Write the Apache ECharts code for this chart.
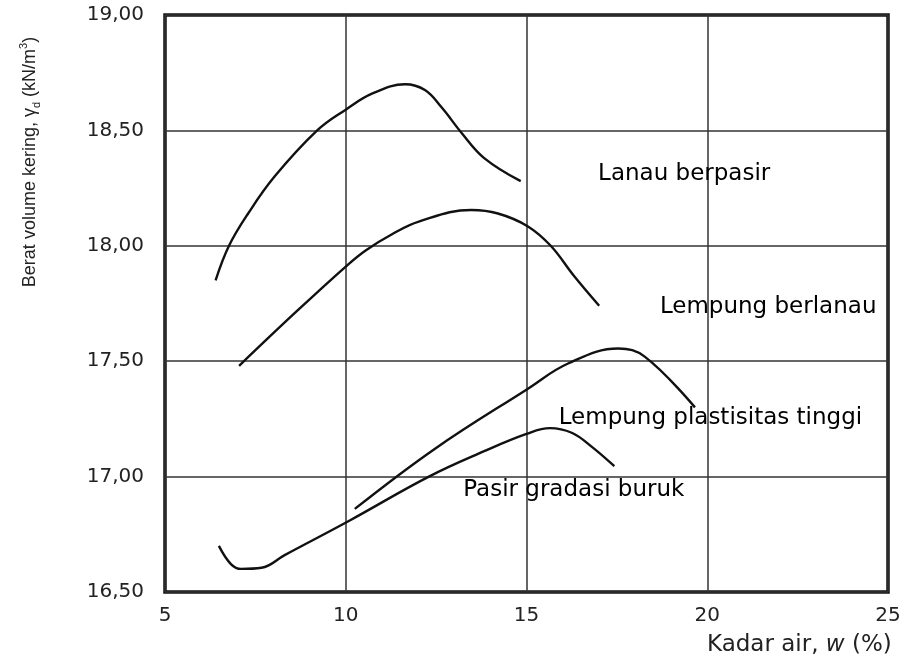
<!DOCTYPE html>
<html>
<head>
<meta charset="utf-8">
<script src="https://cdn.jsdelivr.net/npm/echarts@6/dist/echarts.min.js"></script>
<style>
  html, body { margin:0; padding:0; background:#fff; }
  #main { width:924px; height:660px; }
</style>
</head>
<body>
<div id="main"></div>
<script>
	// kadar air (%) dan berat volume kering (kN/m3) tiap kurva
	var lanauW = [6.40, 6.77, 7.30, 8.03, 9.21, 10.00, 10.74, 11.64, 12.19, 12.65, 13.20, 13.83, 14.84];
	var lanauG = [17.85, 18.00, 18.14, 18.30, 18.50, 18.59, 18.66, 18.70, 18.675, 18.60, 18.49, 18.38, 18.28];

	var berlanauW = [7.05, 8.60, 10.00, 10.55, 11.28, 12.02, 13.47, 14.21, 15.03, 15.67, 16.31, 17.01];
	var berlanauG = [17.48, 17.71, 17.91, 17.98, 18.05, 18.105, 18.155, 18.14, 18.085, 18.00, 17.87, 17.74];

	var plastisW = [10.25, 12.46, 15.03, 16.15, 17.54, 18.27, 19.66];
	var plastisG = [16.86, 17.12, 17.38, 17.49, 17.555, 17.52, 17.30];

	var pasirW = [6.49, 6.83, 7.11, 7.67, 8.31, 10.11, 12.30, 13.83, 15.00, 15.65, 16.25, 16.80, 17.43];
	var pasirG = [16.70, 16.62, 16.60, 16.605, 16.66, 16.81, 17.00, 17.11, 17.185, 17.21, 17.19, 17.13, 17.045];

	var namaKurva = ['Lanau berpasir', 'Lempung berlanau', 'Lempung plastisitas tinggi', 'Pasir gradasi buruk'];
	var xTicks = [5, 10, 15, 20, 25];
	var yTicks = [16.5, 17.0, 17.5, 18.0, 18.5, 19.0];

	function zip(xs, ys){
		var out = [];
		for(var i=0;i<xs.length;i++){ out.push([xs[i], ys[i]]); }
		return out;
	}

	function kurva(nama, xs, ys){
		return {
			name: nama,
			type: 'line',
			smooth: 0.4,
			symbol: 'none',
			lineStyle: { color:'#111', width:2.4 },
			data: zip(xs, ys)
		};
	}

	var lebarFont = '"DejaVu Sans", Verdana, sans-serif';
	var judulFont = '"Liberation Sans", Arial, sans-serif';

	var myChart = echarts.init(document.getElementById('main'));
	myChart.setOption({
		backgroundColor: '#fff',
		animation: false,
		grid: { left:165, top:15, right:36, bottom:68, show:true, borderColor:'#111', borderWidth:3.5 },
		xAxis: {
			type: 'value',
			min: xTicks[0], max: xTicks[xTicks.length-1], interval: 5,
			axisLine: { show:false },
			axisTick: { show:false },
			axisLabel: { color:'#222', fontSize:20, fontFamily:lebarFont, margin:14 },
			splitLine: { show:true, lineStyle:{ color:'#333', width:1.5 } }
		},
		yAxis: {
			type: 'value',
			min: yTicks[0], max: yTicks[yTicks.length-1], interval: 0.5,
			axisLine: { show:false },
			axisTick: { show:false },
			axisLabel: {
				color:'#222', fontSize:20, fontFamily:lebarFont, margin:21,
				formatter: function(v){ return v.toFixed(2).replace('.', ','); }
			},
			splitLine: { show:true, lineStyle:{ color:'#333', width:1.5 } }
		},
		graphic: [
			{
				type: 'text',
				x: 30, y: 162,
				rotation: Math.PI/2,
				style: {
					text: '{a|Berat volume kering, γ}{s|d}{a| (kN/m}{p|3}{a|)}',
					align: 'center',
					verticalAlign: 'middle',
					fill: '#222',
					rich: {
						a: { fontSize:18, fontFamily:judulFont, lineHeight:24, verticalAlign:'middle' },
						s: { fontSize:11, fontFamily:judulFont, lineHeight:24, verticalAlign:'bottom' },
						p: { fontSize:11, fontFamily:judulFont, lineHeight:24, verticalAlign:'top' }
					}
				}
			},
			{
				type: 'text',
				x: 707, y: 645,
				style: {
					text: '{a|Kadar air, }{i|w}{a| (%)}',
					verticalAlign: 'middle',
					fill: '#222',
					rich: {
						a: { fontSize:23, fontFamily:lebarFont },
						i: { fontSize:23, fontFamily:lebarFont, fontStyle:'italic' }
					}
				}
			}
		],
		series: [
			kurva(namaKurva[0], lanauW, lanauG),
			kurva(namaKurva[1], berlanauW, berlanauG),
			kurva(namaKurva[2], plastisW, plastisG),
			kurva(namaKurva[3], pasirW, pasirG),
			{
				name: 'label',
				type: 'scatter',
				symbolSize: 0,
				silent: true,
				label: {
					show: true,
					position: [0, 0],
					align: 'left',
					verticalAlign: 'middle',
					color: '#000',
					opacity: 1,
					fontSize: 23,
					fontFamily: lebarFont,
					formatter: function(p){ return p.name; }
				},
				data: [
					{ name: namaKurva[0], value: [16.98, 18.31] },
					{ name: namaKurva[1], value: [18.69, 17.735] },
					{ name: namaKurva[2], value: [15.89, 17.255] },
					{ name: namaKurva[3], value: [13.25, 16.94] }
				]
			}
		]
	});
</script>
</body>
</html>
